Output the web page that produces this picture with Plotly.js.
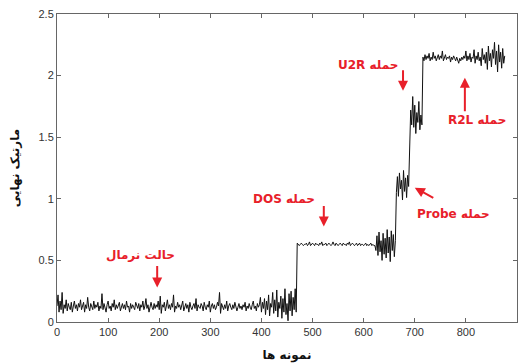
<!DOCTYPE html>
<html>
<head>
<meta charset="utf-8">
<script src="https://cdn.plot.ly/plotly-3.0.1.min.js"></script>
<style>html,body{margin:0;padding:0;background:#fff;}#chart{width:526px;height:364px;}</style>
</head>
<body>
<div id="chart"></div>
<script>
// sample step between plotted values
const sampleStep = 2;
const startSample = 0;

// normal state (samples 0..398)
const normalValues = [
0.13,0.22,0.08,0.17,0.10,0.24,0.07,0.14,0.11,0.18,0.09,0.15,0.12,0.10,0.16,0.08,0.13,0.17,0.11,0.14,
0.09,0.15,0.12,0.18,0.10,0.13,0.16,0.08,0.14,0.11,0.20,0.12,0.09,0.15,0.13,0.10,0.17,0.11,0.14,0.12,
0.16,0.09,0.13,0.11,0.23,0.10,0.15,0.12,0.08,0.14,0.17,0.11,0.13,0.09,0.15,0.12,0.18,0.10,0.14,0.11,
0.13,0.16,0.09,0.12,0.15,0.11,0.14,0.10,0.17,0.12,0.13,0.08,0.15,0.11,0.14,0.12,0.10,0.16,0.13,0.11,
0.15,0.09,0.14,0.12,0.17,0.10,0.13,0.19,0.11,0.14,0.08,0.13,0.16,0.12,0.10,0.15,0.11,0.14,0.12,0.17,
0.10,0.21,0.07,0.14,0.12,0.16,0.09,0.13,0.18,0.11,0.14,0.10,0.15,0.12,0.22,0.08,0.13,0.11,0.16,0.12,
0.14,0.10,0.13,0.17,0.09,0.12,0.15,0.11,0.14,0.08,0.16,0.12,0.10,0.13,0.15,0.11,0.19,0.09,0.14,0.12,
0.11,0.15,0.13,0.09,0.16,0.12,0.10,0.14,0.12,0.17,0.08,0.13,0.15,0.11,0.14,0.10,0.12,0.16,0.13,0.24,
0.07,0.15,0.12,0.10,0.14,0.11,0.17,0.09,0.13,0.15,0.12,0.10,0.14,0.11,0.16,0.13,0.09,0.12,0.15,0.11,
0.13,0.10,0.14,0.12,0.16,0.09,0.13,0.11,0.15,0.12,0.10,0.14,0.17,0.11,0.13,0.09,0.15,0.12,0.14,0.20
];
// end of normal state, growing noise (samples 400..468)
const normalTailValues = [
0.08,0.16,0.11,0.19,0.06,0.17,0.10,0.22,0.05,0.15,0.12,0.24,0.07,0.18,0.09,0.26,0.04,0.16,0.11,0.21,
0.03,0.19,0.08,0.27,0.06,0.15,0.01,0.23,0.09,0.25,0.05,0.20,0.10,0.27,0.08
];
// DOS attack (samples 470..620)
const dosValues = [
0.64,0.63,0.62,0.63,0.64,0.63,0.62,0.63,0.63,0.64,0.62,0.63,0.65,0.62,0.63,0.64,0.63,0.62,0.64,0.63,
0.63,0.62,0.64,0.63,0.65,0.62,0.63,0.63,0.64,0.62,0.63,0.64,0.63,0.62,0.63,0.65,0.63,0.62,0.64,0.63,
0.62,0.63,0.64,0.63,0.62,0.64,0.63,0.63,0.62,0.64,0.63,0.65,0.62,0.63,0.64,0.63,0.62,0.63,0.64,0.62,
0.63,0.64,0.62,0.63,0.63,0.62,0.63,0.64,0.62,0.63,0.62,0.63,0.64,0.62,0.63,0.62
];
// DOS noisy end (samples 622..662)
const dosTailValues = [
0.62,0.58,0.70,0.54,0.73,0.57,0.66,0.50,0.72,0.55,0.68,0.52,0.75,0.56,0.69,0.49,0.74,0.58,0.71,0.53,0.66
];
// Probe attack (samples 664..688)
const probeValues = [1.05,1.18,1.02,1.21,1.08,1.15,0.99,1.23,1.06,1.17,1.01,1.19,1.10];
// U2R attack (samples 690..714)
const u2rValues = [1.55,1.72,1.60,1.83,1.58,1.76,1.53,1.70,1.62,1.79,1.56,1.68,1.60];
// R2L attack (samples 716..876)
const r2lValues = [
2.15,2.12,2.17,2.13,2.16,2.14,2.18,2.12,2.15,2.13,2.19,2.14,2.16,2.12,2.15,2.17,2.13,2.16,2.14,2.20,
2.12,2.15,2.17,2.13,2.15,2.14,2.16,2.11,2.15,2.13,2.16,2.14,2.12,2.15,2.13,2.10,2.14,2.12,2.15,2.13,
2.16,2.14,2.20,2.12,2.16,2.13,2.18,2.11,2.15,2.14,2.21,2.10,2.16,2.13,2.19,2.12,2.15,2.08,2.22,2.13,
2.17,2.10,2.19,2.05,2.24,2.12,2.18,2.07,2.21,2.14,2.27,2.09,2.20,2.03,2.25,2.11,2.19,2.06,2.22,2.10,2.16
];

const xTickVals = [0,100,200,300,400,500,600,700,800,900];
const yTickVals = [0,0.5,1,1.5,2,2.5];
const yTickText = ['0','0.5','1','1.5','2','2.5'];

const xTitle = 'نمونه ها';
const yTitle = 'مارتیک نهایی';

// annotation labels
const labelTexts = ['حالت نرمال','DOS حمله','U2R حمله','R2L حمله','Probe حمله'];
const labelX = [164, 444, 609, 822, 775];
const labelY = [0.54, 1.0, 2.09, 1.64, 0.873];
// arrow tips
const arrowX = [196, 522, 677, 798, 700];
const arrowY = [0.28, 0.775, 1.877, 1.983, 1.09];
const arrowDX = [0, 0, 0, 0, 20];
const arrowDY = [-23, -22, -22, 35, 11];

const yValues = [].concat(normalValues, normalTailValues, dosValues, dosTailValues, probeValues, u2rValues, r2lValues);
const xValues = yValues.map((_, i) => startSample + i * sampleStep);

const red = '#e8202a';
const annotations = [];
for (let i = 0; i < labelTexts.length; i++) {
  annotations.push({
    x: labelX[i], y: labelY[i], xref: 'x', yref: 'y', text: labelTexts[i], showarrow: false,
    font: {family: 'DejaVu Sans, Arial, sans-serif', size: 12, color: red, weight: 'bold'}
  });
  annotations.push({
    x: arrowX[i], y: arrowY[i], xref: 'x', yref: 'y', text: '', showarrow: true,
    ax: arrowDX[i], ay: arrowDY[i], arrowhead: 2, arrowsize: 1, arrowwidth: 2, arrowcolor: red, standoff: 0
  });
}

const axisCommon = {
  showgrid: false, zeroline: false, showline: true, linecolor: '#666', linewidth: 1,
  mirror: 'ticks', ticks: 'inside', ticklen: 4, tickcolor: '#666', tickwidth: 1,
  tickfont: {family: 'Liberation Sans, Arial, sans-serif', size: 11, color: '#333'}
};

Plotly.newPlot('chart', [{
  x: xValues, y: yValues, type: 'scatter', mode: 'lines',
  line: {color: '#111', width: 1}, hoverinfo: 'none'
}], {
  width: 526, height: 364,
  margin: {l: 57, r: 9, t: 14, b: 42},
  paper_bgcolor: '#fff', plot_bgcolor: '#fff',
  showlegend: false,
  xaxis: Object.assign({}, axisCommon, {range: [0, 900], tickvals: xTickVals,
    title: {text: xTitle, standoff: 13, font: {family: 'DejaVu Sans, Arial, sans-serif', size: 12, color: '#111', weight: 'bold'}}}),
  yaxis: Object.assign({}, axisCommon, {range: [0, 2.5], tickvals: yTickVals, ticktext: yTickText,
    title: {text: yTitle, standoff: 16, font: {family: 'DejaVu Sans, Arial, sans-serif', size: 12, color: '#111', weight: 'bold'}}}),
  annotations: annotations
}, {staticPlot: true, displayModeBar: false});
</script>
</body>
</html>
